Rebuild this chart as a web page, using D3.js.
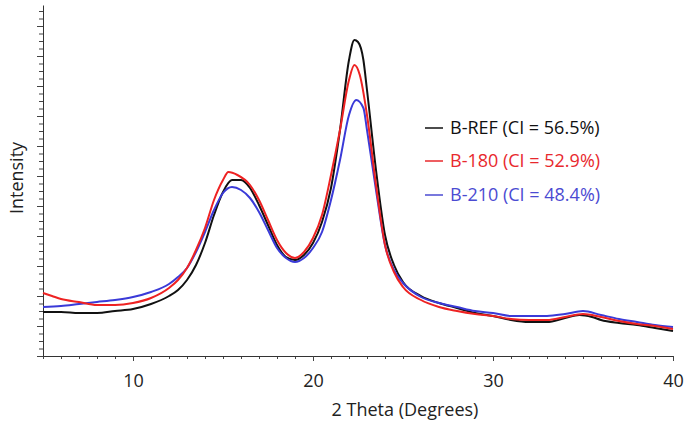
<!DOCTYPE html>
<html><head><meta charset="utf-8">
<script src="https://cdn.jsdelivr.net/npm/d3@7"></script>
<style>body{margin:0;background:#fff}svg{display:block}text{font-family:"Open Sans",sans-serif}</style>
</head><body><svg id="c" width="685" height="422"></svg>
<script>
const xTicks = [10, 20, 30, 40];
const seriesNames = ["B-REF (CI = 56.5%)", "B-180 (CI = 52.9%)", "B-210 (CI = 48.4%)"];
const seriesColors = ["#111111", "#ee2222", "#3a3ad8"];
const legendColors = ["#111111", "#e8282d", "#4b4bd2"];

const refX = [5,6,7,8,9,10,11,12,12.5,13,13.5,14,14.5,15,15.5,16,16.5,17,17.5,18,18.5,19,19.5,20,20.5,21,21.5,22,22.3,22.5,22.8,23,23.5,24,24.5,25,26,27,28,29,30,31,32,33,34,34.8,35.5,36,37,38,39,40];
const refY = [440,440,430,430,450,470,520,600,660,760,910,1130,1410,1640,1760,1760,1680,1510,1310,1110,990,960,1010,1130,1340,1680,2260,2960,3160,3140,2960,2660,1860,1210,910,740,600,530,480,430,400,360,340,340,380,410,390,360,330,310,280,250];

const b180X = [5,5.5,6,7,8,9,10,11,12,12.5,13,13.5,14,14.5,15,15.3,15.8,16.5,17,17.5,18,18.5,19,19.5,20,20.5,21,21.5,22,22.3,22.6,23,23.5,24,24.5,25,26,27,28,29,30,31,32,33,34,35,36,37,38,39,40];
const b180Y = [630,600,570,540,510,510,530,580,680,760,880,1060,1280,1560,1760,1840,1810,1710,1560,1360,1160,1030,980,1040,1180,1410,1810,2260,2760,2910,2810,2410,1710,1110,840,690,560,490,450,420,400,370,360,360,390,420,390,350,320,300,270];

const b210X = [5,6,7,8,9,10,11,12,12.5,13,13.5,14,14.5,15,15.5,16,16.5,17,17.5,18,18.5,19,19.5,20,20.5,21,21.5,22,22.4,22.8,23,23.5,24,24.5,25,26,27,28,29,30,31,32,33,34,35,36,37,38,39,40];
const b210Y = [490,500,520,540,560,590,640,720,790,880,1040,1240,1460,1630,1690,1660,1580,1440,1260,1080,980,940,980,1080,1240,1560,1960,2410,2560,2480,2260,1660,1110,860,730,590,530,490,450,430,400,400,400,420,450,410,370,340,310,290];

const svg = d3.select("#c");
const x = d3.scaleLinear().domain([5, 40]).range([43, 673]);
const y = d3.scaleLinear().domain([0, 3510]).range([356, 5]);

// axes
const minorX = d3.range(5, 41).filter(v => v % 10 !== 0);
svg.append("g").attr("transform","translate(0,356)")
  .call(d3.axisBottom(x).tickValues(minorX).tickSize(3).tickFormat("").tickSizeOuter(0))
  .call(g => g.select(".domain").remove());
svg.append("g").attr("transform","translate(0,356)")
  .call(d3.axisBottom(x).tickValues(xTicks).tickSize(5).tickFormat(d3.format("d")).tickPadding(13).tickSizeOuter(0))
  .call(g => g.select(".domain").attr("stroke","#333"))
  .call(g => g.selectAll("text").attr("font-size", 18).attr("fill","#222").attr("font-family","Open Sans"));

const yTv = d3.range(0, 3511, 75);
svg.append("g").attr("transform","translate(43,0)")
  .call(d3.axisLeft(y).tickValues(yTv.filter((d,i)=>i%4!==0)).tickSize(4).tickFormat("").tickSizeOuter(0))
  .call(g => g.select(".domain").remove());
svg.append("g").attr("transform","translate(43,0)")
  .call(d3.axisLeft(y).tickValues(yTv.filter((d,i)=>i%4===0)).tickSize(6).tickFormat("").tickSizeOuter(0))
  .call(g => g.select(".domain").attr("stroke","#333"));
svg.selectAll(".tick line").attr("stroke","#444");

// labels
svg.append("text").attr("x", 405).attr("y", 416).attr("text-anchor","middle")
  .attr("font-size", 18).attr("fill","#222").text("2 Theta (Degrees)");
svg.append("text").attr("transform","translate(23,178) rotate(-90)").attr("text-anchor","middle")
  .attr("font-size", 18).attr("fill","#222").text("Intensity");

// lines
const line = d3.line().x(d => x(d[0])).y(d => y(d[1])).curve(d3.curveMonotoneX);
const data = [d3.zip(refX, refY), d3.zip(b180X, b180Y), d3.zip(b210X, b210Y)];
[0, 2, 1].forEach(i => {
  svg.append("path").datum(data[i]).attr("d", line).attr("fill","none")
    .attr("stroke", seriesColors[i]).attr("stroke-width", 2).attr("stroke-linejoin","round");
});

// legend
const ly = [128, 161, 195];
seriesNames.forEach((n, i) => {
  svg.append("line").attr("x1", 425).attr("x2", 443).attr("y1", ly[i]).attr("y2", ly[i])
    .attr("stroke", legendColors[i]).attr("stroke-width", 1.5);
  svg.append("text").attr("x", 450).attr("y", ly[i] + 6).attr("font-size", 18)
    .attr("fill", legendColors[i]).text(n);
});
</script></body></html>
